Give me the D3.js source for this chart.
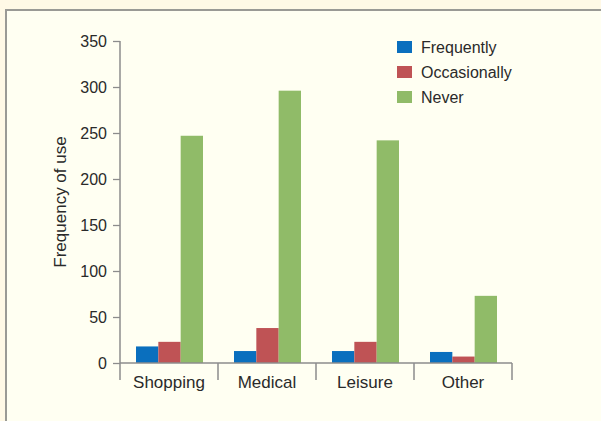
<!DOCTYPE html>
<html><head><meta charset="utf-8">
<script src="https://cdn.jsdelivr.net/npm/d3@7"></script>
<style>
html,body{margin:0;padding:0;background:#FFF9E6;}
svg{display:block;}
text{font-family:"Liberation Sans",Arial,sans-serif;fill:#2a2a2a;}
</style></head>
<body><svg id="c" width="601" height="421"></svg>
<script>
const categories = ["Shopping","Medical","Leisure","Other"];
const seriesNames = ["Frequently","Occasionally","Never"];
const frequently = [18, 13, 13, 12];
const occasionally = [23, 38, 23, 7];
const never = [247, 296, 242, 73];
const yTicks = [0,50,100,150,200,250,300,350];
const colors = ["#0A6FBE","#BF5355","#90BB68"];

const series = [frequently, occasionally, never];
const svg = d3.select("#c");

// panel
svg.append("rect").attr("x",6).attr("y",10).attr("width",620).attr("height",440)
  .attr("fill","#FFFFF2").attr("stroke","#9a9a95").attr("stroke-width",2);

const x0 = d3.scaleBand().domain(categories).range([120,512]).paddingInner(0).paddingOuter(0);
const x1 = d3.scaleBand().domain(seriesNames).range([16, x0.bandwidth()-15]).padding(0);
const y = d3.scaleLinear().domain([0,350]).range([363,41]);

// bars
const g = svg.append("g");
categories.forEach((c,i)=>{
  series.forEach((s,j)=>{
    g.append("rect")
      .attr("x", x0(c)+x1(seriesNames[j]))
      .attr("width", x1.bandwidth())
      .attr("y", y(s[i]))
      .attr("height", y(0)-y(s[i]))
      .attr("fill", colors[j]);
  });
});

const axisColor = "#8c8c8c";
// y axis
const ya = svg.append("g").attr("transform","translate(120,0)")
  .call(d3.axisLeft(y).tickValues(yTicks).tickSize(7).tickPadding(6).tickSizeOuter(0));
ya.attr("font-size",null).attr("font-family",null);
ya.select(".domain").remove();
ya.selectAll(".tick line").attr("stroke",axisColor).attr("stroke-width",1.3);
ya.selectAll(".tick text").style("font-size","16px").style("font-family","Liberation Sans, Arial, sans-serif").style("fill","#2a2a2a");
svg.append("line").attr("x1",120).attr("x2",120).attr("y1",y(350)).attr("y2",380)
  .attr("stroke",axisColor).attr("stroke-width",1.5);

// x axis
svg.append("line").attr("x1",120).attr("x2",512).attr("y1",y(0)).attr("y2",y(0))
  .attr("stroke",axisColor).attr("stroke-width",1.5);
categories.forEach(c=>{
  svg.append("line").attr("x1",x0(c)+x0.bandwidth()).attr("x2",x0(c)+x0.bandwidth())
    .attr("y1",y(0)).attr("y2",380).attr("stroke",axisColor).attr("stroke-width",1.5);
  svg.append("text").attr("x",x0(c)+x0.bandwidth()/2).attr("y",y(0)+25)
    .attr("text-anchor","middle").style("font-size","17px").text(c);
});

// y title
svg.append("text").attr("transform","translate(66,"+y(175)+") rotate(-90)")
  .attr("text-anchor","middle").style("font-size","17px").text("Frequency of use");

// legend
const lg = svg.append("g").attr("transform","translate(397,40)");
seriesNames.forEach((n,i)=>{
  lg.append("rect").attr("x",0).attr("y",i*25+1).attr("width",15).attr("height",12).attr("fill",colors[i]);
  lg.append("text").attr("x",24).attr("y",i*25+13).style("font-size","16px").text(n);
});
</script></body></html>
